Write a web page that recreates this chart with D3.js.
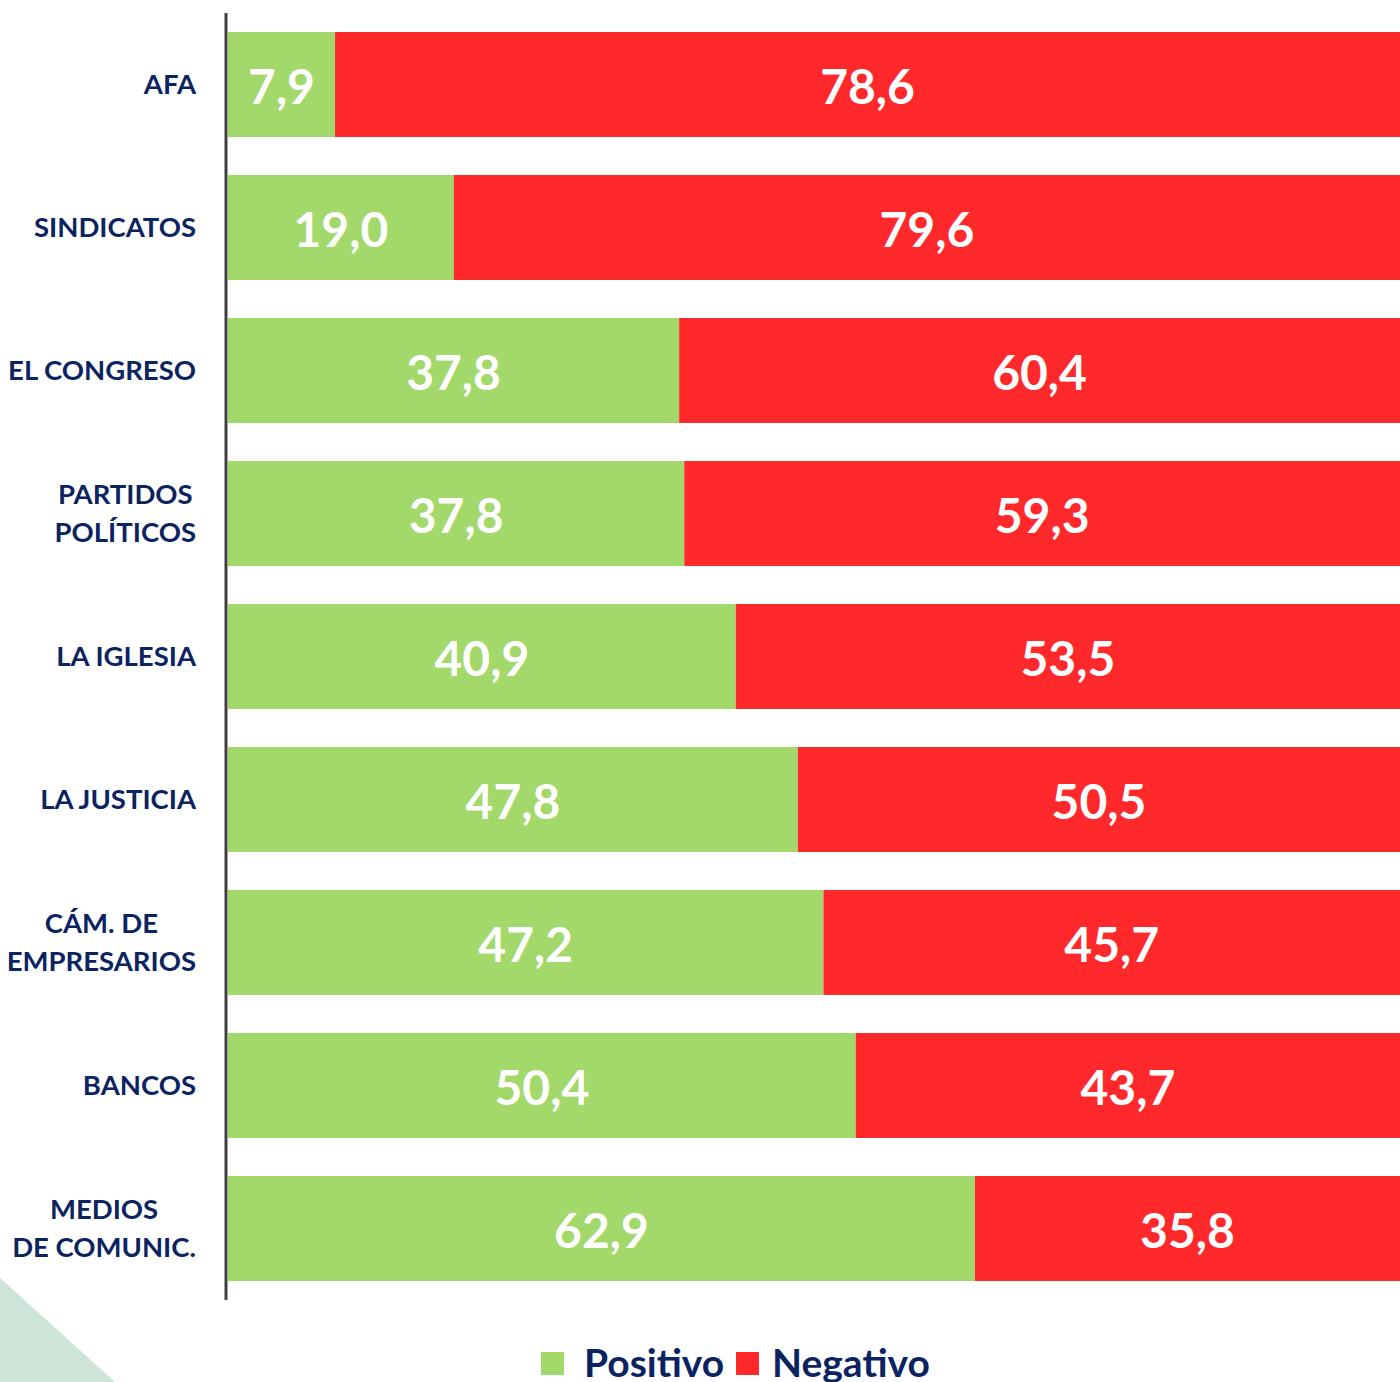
<!DOCTYPE html>
<html>
<head>
<meta charset="utf-8">
<script src="https://cdn.jsdelivr.net/npm/d3@7"></script>
<style>
  body { margin: 0; background: #fff; }
  svg { display: block; font-family: Lato, "Open Sans", sans-serif; font-weight: bold; }
</style>
</head>
<body>
<script>
// categories (each entry = lines of the label)
const categories = [
    ['AFA'], ['SINDICATOS'], ['EL CONGRESO'], ['PARTIDOS', 'POLÍTICOS'], ['LA IGLESIA'],
    ['LA JUSTICIA'], ['CÁM. DE', 'EMPRESARIOS'], ['BANCOS'], ['MEDIOS', 'DE COMUNIC.']
];
const positivo = [7.9, 19.0, 37.8, 37.8, 40.9, 47.8, 47.2, 50.4, 62.9];
const negativo = [78.6, 79.6, 60.4, 59.3, 53.5, 50.5, 45.7, 43.7, 35.8];
const seriesNames = ['Positivo', 'Negativo'];
const colors = ['#a3d86b', '#ff282b'];

const width = 1400, height = 1382;
const navy = '#0b2461';
const fmt = v => v.toFixed(1).replace('.', ',');

const svg = d3.select('body').append('svg')
    .attr('width', width)
    .attr('height', height);

// decorative corner
svg.append('path')
    .attr('d', `M0,1278 L115,${height} L0,${height} Z`)
    .attr('fill', '#cce5d8');

let rows = categories.map((c, i) => {
    let total = positivo[i] + negativo[i];
    return {key: c.join(' '), lines: c, pos: positivo[i], neg: negativo[i], total: total};
});

let x = d3.scaleLinear().domain([0, 100]).range([228, 1400]);
let y = d3.scaleBand()
    .domain(rows.map(d => d.key))
    .range([13, 1300])
    .paddingInner(0.266)
    .paddingOuter(0.133);

const row = svg.append('g')
    .selectAll('g')
    .data(rows)
    .join('g');

// green segment
row.append('rect')
    .attr('x', x(0))
    .attr('y', d => y(d.key))
    .attr('width', d => x(d.pos / d.total * 100) - x(0))
    .attr('height', y.bandwidth())
    .attr('fill', colors[0]);

// red segment
row.append('rect')
    .attr('x', d => x(d.pos / d.total * 100))
    .attr('y', d => y(d.key))
    .attr('width', d => x(100) - x(d.pos / d.total * 100))
    .attr('height', y.bandwidth())
    .attr('fill', colors[1]);

// value labels
row.append('text')
    .attr('x', d => (x(0) + x(d.pos / d.total * 100)) / 2)
    .attr('y', d => y(d.key) + y.bandwidth() / 2 + 19)
    .attr('text-anchor', 'middle')
    .attr('fill', '#fff')
    .style('font-size', '48px')
    .text(d => fmt(d.pos));

row.append('text')
    .attr('x', d => (x(d.pos / d.total * 100) + x(100)) / 2)
    .attr('y', d => y(d.key) + y.bandwidth() / 2 + 19)
    .attr('text-anchor', 'middle')
    .attr('fill', '#fff')
    .style('font-size', '48px')
    .text(d => fmt(d.neg));

// category labels: block right-aligned, lines centered within the block
row.each(function (d) {
    let g = d3.select(this).append('g');
    let cy = y(d.key) + y.bandwidth() / 2;
    let lineH = 38;
    let texts = g.selectAll('text')
        .data(d.lines)
        .join('text')
        .attr('fill', navy)
        .style('font-size', '27.5px')
        .attr('text-anchor', 'middle')
        .attr('y', (l, i) => cy + 9 + (i - (d.lines.length - 1) / 2) * lineH)
        .text(l => l);
    let maxW = 0;
    texts.each(function () { maxW = Math.max(maxW, this.getComputedTextLength()); });
    texts.attr('x', 196 - maxW / 2);
});

// axis line
svg.append('line')
    .attr('x1', 226).attr('x2', 226)
    .attr('y1', 13).attr('y2', 1300)
    .attr('stroke', '#404040')
    .attr('stroke-width', 3);

// legend
const legend = svg.append('g');
const legendX = [541, 736];
const textX = [584, 772];
seriesNames.forEach((name, i) => {
    legend.append('rect')
        .attr('x', legendX[i]).attr('y', 1352)
        .attr('width', 23).attr('height', 23)
        .attr('fill', colors[i]);
    legend.append('text')
        .attr('x', textX[i]).attr('y', 1377)
        .attr('fill', navy)
        .style('font-size', '39px')
        .text(name);
});
</script>
</body>
</html>
